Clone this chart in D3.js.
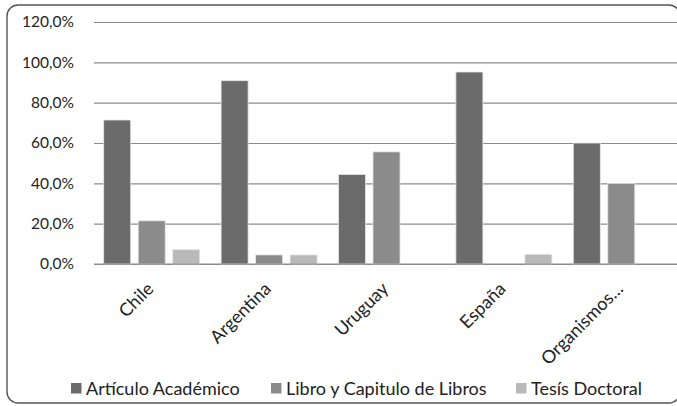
<!DOCTYPE html>
<html><head><meta charset="utf-8">
<script src="https://cdn.jsdelivr.net/npm/d3@7/dist/d3.min.js"></script>
<style>html,body{margin:0;padding:0;background:#fff;overflow:hidden}</style>
</head><body>
<svg id="c" width="677" height="406"></svg>
<script>
const categories = ["Chile", "Argentina", "Uruguay", "España", "Organismos…"];
const seriesNames = ["Artículo Académico", "Libro y Capitulo de Libros", "Tesís Doctoral"];
const articulo = [71.4, 90.9, 44.4, 95.2, 60.0];
const libro = [21.4, 4.5, 55.6, 0, 40.0];
const tesis = [7.1, 4.5, 0, 4.8, 0];
const yTicks = [0, 20, 40, 60, 80, 100, 120];
const colors = ["#6b6b6b", "#8b8b8b", "#b9b9b9"];

const seriesValues = [articulo, libro, tesis];
const svg = d3.select("#c");
const font = "Lato, 'Open Sans', sans-serif";

// border
svg.append("rect").attr("x", 7).attr("y", 5).attr("width", 673).attr("height", 398)
  .attr("rx", 11).attr("ry", 11).attr("fill", "none").attr("stroke", "#555").attr("stroke-width", 1.4);

const x0 = d3.scaleBand().domain(categories).range([93, 680]).paddingInner(0).paddingOuter(0);
const x1 = d3.scaleBand().domain(seriesNames).range([0, x0.bandwidth()]).paddingInner(0.217).paddingOuter(0.31);
const y = d3.scaleLinear().domain([0, 120]).range([264, 22]);

// gridlines
const yAxis = d3.axisLeft(y).tickValues(yTicks).tickSize(-(677 - 94)).tickPadding(20)
  .tickFormat(d => d3.format(".1f")(d).replace(".", ",") + "%");
const gy = svg.append("g").attr("transform", "translate(94,0)").call(yAxis);
gy.select(".domain").remove();
gy.selectAll(".tick line").attr("stroke", "#8c8c8c").attr("stroke-width", 1.2);
gy.selectAll(".tick text").attr("font-family", font).attr("font-size", 15.5).attr("fill", "#222").attr("x", -20);

// bars
const groups = svg.append("g").selectAll("g").data(categories).join("g")
  .attr("transform", d => `translate(${x0(d)},0)`);
groups.selectAll("rect").data((c, i) => seriesNames.map((s, j) => ({s, j, v: seriesValues[j][i]})))
  .join("rect")
  .attr("x", d => x1(d.s)).attr("width", x1.bandwidth())
  .attr("y", d => y(d.v)).attr("height", d => y(0) - y(d.v))
  .attr("fill", (d) => colors[d.j])
  .attr("stroke", "#e6e6e6").attr("stroke-width", 0.8);

// baseline
svg.append("line").attr("x1", 94).attr("x2", 677).attr("y1", y(0)).attr("y2", y(0))
  .attr("stroke", "#8c8c8c").attr("stroke-width", 1.2);

// x labels
const xAxis = d3.axisBottom(x0).tickSize(0).tickPadding(0);
const gx = svg.append("g").attr("transform", `translate(0,${y(0)})`).call(xAxis);
gx.select(".domain").remove();
gx.selectAll(".tick text").attr("font-family", font).attr("font-size", 18).attr("fill", "#222")
  .attr("text-anchor", "end").attr("dy", 0).attr("y", 0)
  .attr("transform", "translate(3,26) rotate(-45)");

// legend
const legendTextX = [86, 286, 531];
const lg = svg.append("g").selectAll("g").data(seriesNames).join("g")
  .attr("transform", (d, i) => `translate(${legendTextX[i]},0)`);
lg.append("rect").attr("x", -15).attr("y", 383).attr("width", 10.5).attr("height", 10.5)
  .attr("fill", (d, i) => colors[i]);
lg.append("text").attr("x", 0).attr("y", 395).text(d => d)
  .attr("font-family", font).attr("font-size", 18).attr("fill", "#222");
</script>
</body></html>
